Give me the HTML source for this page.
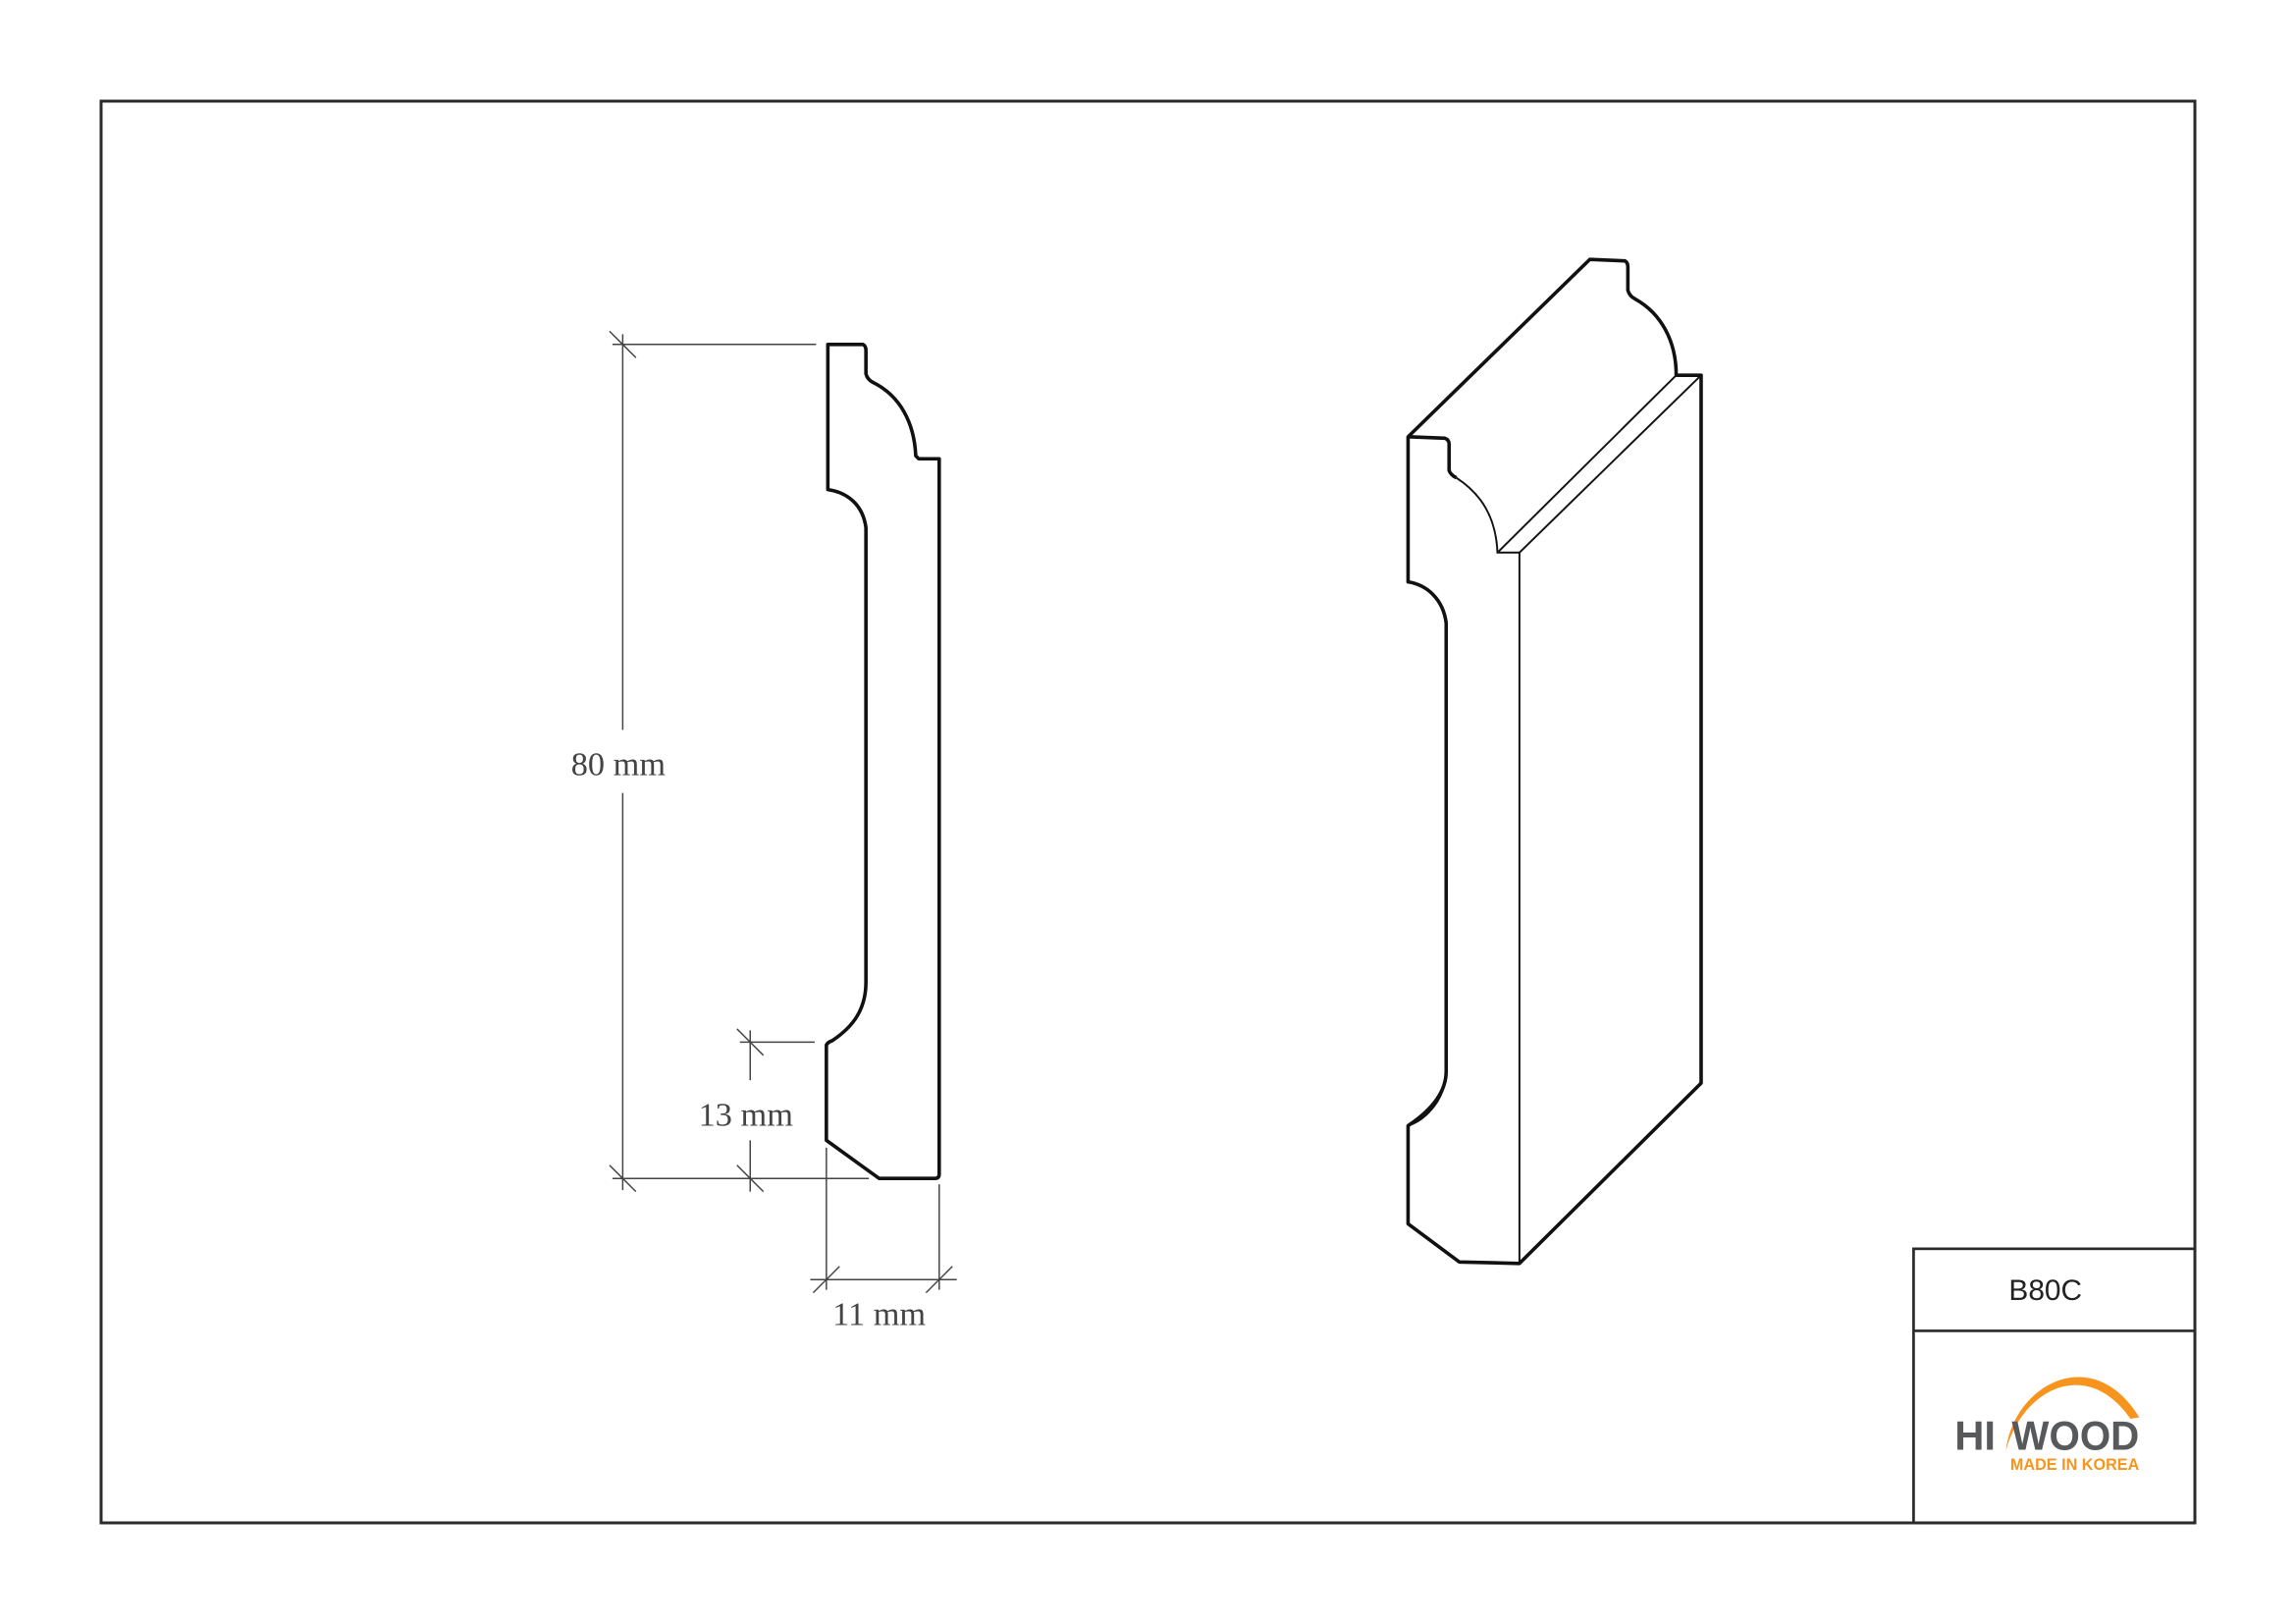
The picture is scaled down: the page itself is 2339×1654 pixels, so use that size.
<!DOCTYPE html>
<html><head><meta charset="utf-8"><style>
html,body{margin:0;padding:0;background:#fff;}
svg{display:block;}
</style></head><body>
<svg width="2339" height="1654" viewBox="0 0 1567 1108" preserveAspectRatio="none" xmlns="http://www.w3.org/2000/svg">
<rect x="0" y="0" width="1567" height="1108" fill="#fff"/>
<rect x="69" y="69" width="1429" height="970" fill="none" stroke="#2a2a2a" stroke-width="2"/>
<!-- title block -->
<rect x="1306" y="852" width="192" height="187" fill="none" stroke="#2a2a2a" stroke-width="1.8"/>
<line x1="1306" y1="908" x2="1498" y2="908" stroke="#2a2a2a" stroke-width="1.8"/>
<text x="1396" y="887" font-family="Liberation Sans, sans-serif" font-size="20" fill="#222" text-anchor="middle">B80C</text>
<path d="M1369,990 C1374,945 1428,915 1460,967 L1454,968 C1424,925 1380,948 1369,990 Z" fill="#f7941d"/>
<text x="1334" y="989" font-family="Liberation Sans, sans-serif" font-weight="bold" font-size="28" fill="#58595b">HI</text>
<text x="1373" y="989" font-family="Liberation Sans, sans-serif" font-weight="bold" font-size="28" fill="#58595b" textLength="87" lengthAdjust="spacingAndGlyphs">WOOD</text>
<text x="1372" y="1003" font-family="Liberation Sans, sans-serif" font-weight="bold" font-size="11" fill="#f7941d" textLength="88" lengthAdjust="spacingAndGlyphs">MADE IN KOREA</text>

<g transform="translate(3,0)">
<g fill="none" stroke="#111" stroke-width="2.4" stroke-linejoin="round">
<path d="M562,235 L586,235 Q588,236 588,239 L588,255 Q589,259 593,261 C611,270 621,288 622,311 L624,313 L638,313 L638,801 Q638,804 635,804 L597,804 L561,778 L561,713 Q562,711 565,710 C580,700 588,688 588,670 L588,360 C586,345 576,336 562,334 Z"/>
</g>
<g stroke="#444" stroke-width="1" fill="none">
<line x1="422" y1="228" x2="422" y2="498"/>
<line x1="422" y1="541" x2="422" y2="812"/>
<line x1="415" y1="235" x2="554" y2="235"/>
<line x1="415" y1="804" x2="590" y2="804"/>
<line x1="413" y1="226" x2="431" y2="244"/>
<line x1="413" y1="795" x2="431" y2="813"/>
<line x1="509" y1="703" x2="509" y2="737"/>
<line x1="509" y1="778" x2="509" y2="813"/>
<line x1="502" y1="711" x2="553" y2="711"/>
<line x1="500" y1="702" x2="518" y2="720"/>
<line x1="500" y1="795" x2="518" y2="813"/>
<line x1="561" y1="783" x2="561" y2="880"/>
<line x1="638" y1="808" x2="638" y2="880"/>
<line x1="550" y1="873" x2="650" y2="873"/>
<line x1="552" y1="882" x2="570" y2="864"/>
<line x1="629" y1="882" x2="647" y2="864"/>
</g>
<g font-family="Liberation Serif, serif" font-size="23" fill="#444" text-anchor="middle">
<text x="419" y="529">80 mm</text>
<text x="506" y="768">13 mm</text>
<text x="597" y="904">11 mm</text>
</g>
</g>

<g transform="translate(6,1)">
<g fill="none" stroke="#111" stroke-width="2.4" stroke-linejoin="round">
<path d="M955,297 L1079,176 L1103,177 Q1105,178 1105,181 L1105,197 Q1106,201 1110,203 C1128,213 1138,232 1138,255 L1155,255 L1155,738 L1031,861 L990,860 L955,834 L955,767 C970,757 981,745 981,730 L981,424 C979,408 968,398 955,396 Z"/>
<path d="M955,297 L980,298 Q983,299 983,302 L983,320 Q984,323 988,325"/>
</g>
<g fill="none" stroke="#111" stroke-width="1.3">
<path d="M988,325 C1005,336 1015,352 1016,376 L1031,376 L1031,861"/>
<line x1="1016" y1="376" x2="1138" y2="255"/>
<line x1="1031" y1="376" x2="1155" y2="255"/>
<path d="M955,767 C965,764 975,754 979,742"/>
</g>
</g>
</svg>
</body></html>
